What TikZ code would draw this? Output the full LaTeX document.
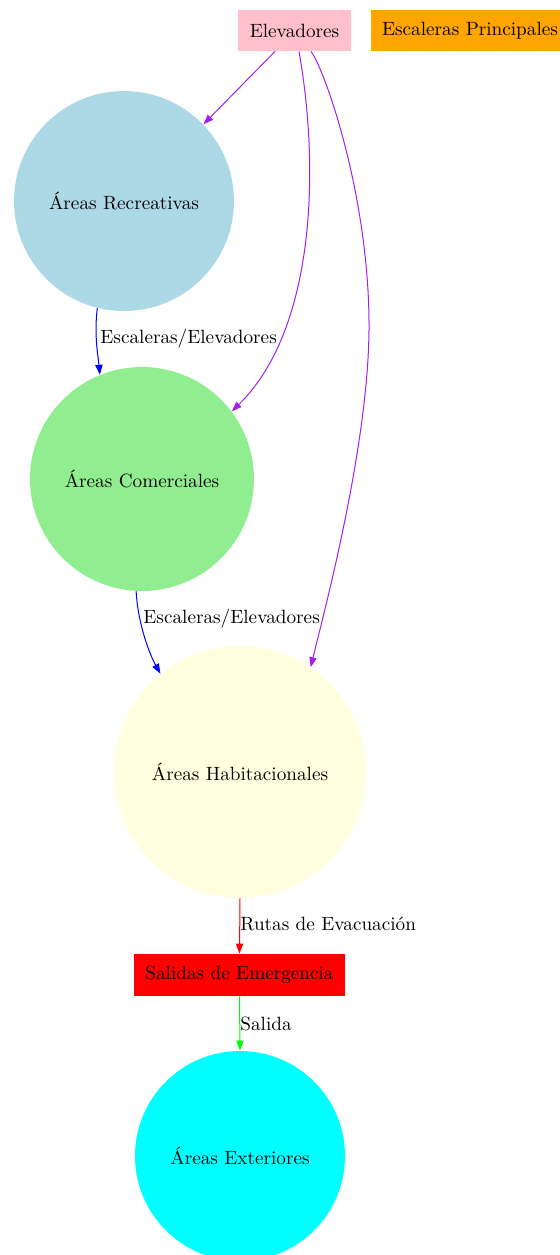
\documentclass[tikz,border=0pt]{standalone}
\usepackage{fontspec}
\usetikzlibrary{arrows.meta,calc}
\definecolor{gvpurple}{HTML}{A020F0}
\definecolor{gvblue}{HTML}{0000FF}
\definecolor{gvred}{HTML}{FF0000}
\definecolor{gvgreen}{HTML}{00FF00}
\definecolor{lblue}{HTML}{ADD8E6}
\definecolor{lgreen}{HTML}{90EE90}
\definecolor{lyellow}{HTML}{FFFFE0}
\definecolor{gvcyan}{HTML}{00FFFF}
\definecolor{gvpink}{HTML}{FFC0CB}
\definecolor{gvorange}{HTML}{FFA500}
\begin{document}
\begin{tikzpicture}[x=0.5pt,y=-0.5pt,
  font=\fontsize{9.6}{11.5}\selectfont,
  circ/.style={circle,inner sep=0pt,draw=none},
  boxn/.style={rectangle,inner sep=0pt,draw=none,minimum height=20.5pt},
  edge/.style={line width=0.5pt,-{Triangle[length=5pt,width=3.6pt]}},
  lbl/.style={anchor=west,inner sep=0pt}]
\useasboundingbox (0,0) rectangle (559,1255);
\node[boxn,fill=gvpink,minimum width=56.5pt] (elev) at (294.5,30.5) {Elevadores};
\node[boxn,fill=gvorange,minimum width=99pt] (esc) at (470,30.5) {Escaleras Principales};
\node[circ,fill=lblue,minimum size=110pt] (rec) at (124,201) {Áreas Recreativas};
\node[circ,fill=lgreen,minimum size=112pt] (com) at (142,479) {Áreas Comerciales};
\node[circ,fill=lyellow,minimum size=126pt] (hab) at (240,772) {Áreas Habitacionales};
\node[boxn,fill=gvred,minimum width=105.5pt,minimum height=21pt] (sal) at (239.5,975) {Salidas de Emergencia};
\node[circ,fill=gvcyan,minimum size=105pt] (ext) at (240,1156) {Áreas Exteriores};
\coordinate (e1) at ($(elev.south)+(-19.5,0)$);
\coordinate (e2) at ($(elev.south)+(4.5,0)$);
\coordinate (e3) at ($(elev.south)+(16.5,0)$);
\coordinate (mid) at (369,330);
\draw[edge,gvpurple] (e1) -- (rec.44);
\draw[edge,gvpurple] (e2) .. controls (320,170) and (315,330) .. (com.37);
\draw[edge,gvpurple] (e3) .. controls (326,72) and (370,200) .. (mid)
   .. controls (368,450) and (322,620) .. (hab.56);
\draw[edge,gvblue] (rec.-104) .. controls (94,335) and (98,355) .. (com.112);
\node[lbl] (l1) at (100,339) {Escaleras/Elevadores};
\draw[edge,gvblue] (com.-93) .. controls (138,625) and (150,655) .. (hab.129);
\node[lbl] (l2) at (143,619) {Escaleras/Elevadores};
\draw[edge,gvred] (hab.south) -- (sal.north);
\node[lbl] (l3) at (240,924) {Rutas de Evacuación};
\draw[edge,gvgreen] (sal.south) -- (ext.north);
\node[lbl] (l4) at (240,1024) {Salida};
\end{tikzpicture}
\end{document}
